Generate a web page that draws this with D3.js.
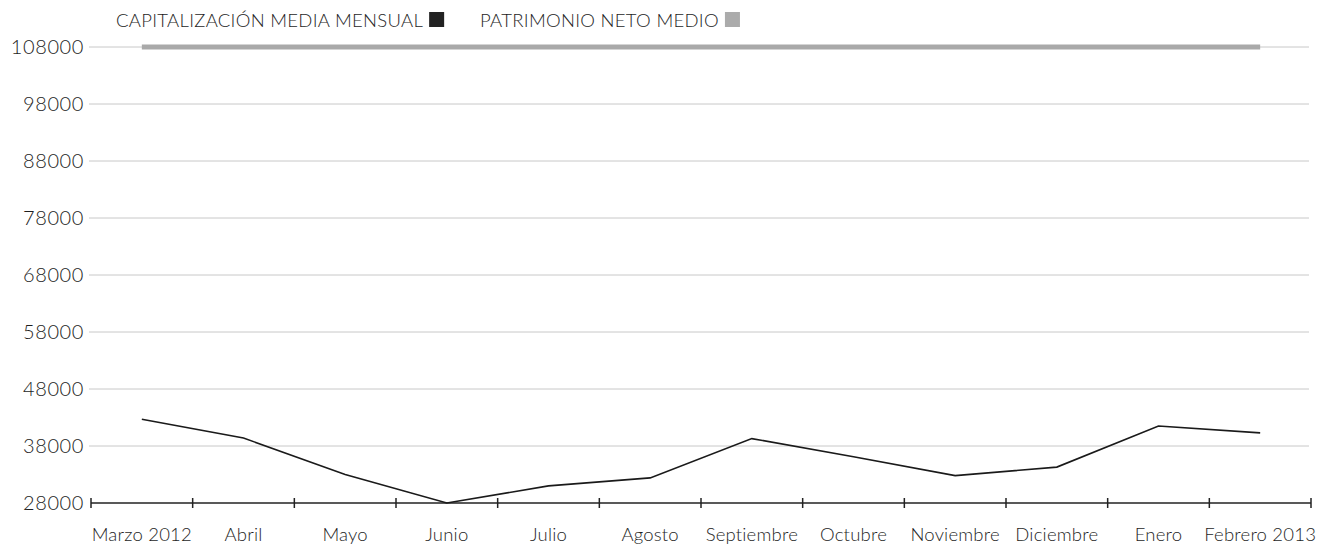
<!DOCTYPE html>
<html><head><meta charset="utf-8">
<script src="https://cdn.jsdelivr.net/npm/d3@7/dist/d3.min.js"></script>
<style>
body{margin:0;background:#fff;}
text{font-family:Lato,"Open Sans",sans-serif;font-weight:300;fill:#1e1e1e;}
</style></head>
<body><svg id="c" width="1334" height="546"></svg>
<script>
const months = ["Marzo 2012","Abril","Mayo","Junio","Julio","Agosto","Septiembre","Octubre","Noviembre","Diciembre","Enero","Febrero 2013"];
const capitalizacion = [42700,39400,33000,28000,31000,32400,39300,36100,32800,34300,41500,40300];
const patrimonio = [108000,108000,108000,108000,108000,108000,108000,108000,108000,108000,108000,108000];
const yTicks = [28000,38000,48000,58000,68000,78000,88000,98000,108000];
const legendLabels = ["CAPITALIZACIÓN MEDIA MENSUAL","PATRIMONIO NETO MEDIO"];

const svg = d3.select("#c");
const x0 = 91, x1 = 1311, yTop = 47, yBot = 503;
const x = d3.scaleBand().domain(months).range([x0,x1]);
const y = d3.scaleLinear().domain([28000,108000]).range([yBot,yTop]);

// gridlines
svg.append("g").selectAll("line").data(yTicks.slice(1)).join("line")
  .attr("x1",x0-2).attr("x2",1309).attr("y1",d=>y(d)).attr("y2",d=>y(d))
  .attr("stroke","#c8c8c8").attr("stroke-width",1);

// y labels
svg.append("g").selectAll("text").data(yTicks).join("text")
  .attr("x",84).attr("y",d=>y(d)).attr("dy","0.36em").attr("text-anchor","end")
  .style("font-size","20px").style("letter-spacing","0.6px").text(d=>d);

// x axis
const xa = svg.append("g").attr("transform",`translate(0,${yBot})`);
xa.append("line").attr("x1",x0).attr("x2",x1).attr("stroke","#222").attr("stroke-width",1.5);
const tickPos = months.map(m=>x(m)).concat([x1]);
xa.selectAll("line.t").data(tickPos).join("line").attr("class","t")
  .attr("x1",d=>d).attr("x2",d=>d).attr("y1",-5).attr("y2",5)
  .attr("stroke","#222").attr("stroke-width",1.5);
xa.selectAll("text").data(months).join("text")
  .attr("x",d=>x(d)+x.bandwidth()/2).attr("y",38).attr("text-anchor","middle")
  .style("font-size","18.5px").style("letter-spacing","0.2px").text(d=>d);

const cx = d=>x(d)+x.bandwidth()/2;
// patrimonio line
svg.append("path").datum(months.map((m,i)=>[cx(m),y(patrimonio[i])]))
  .attr("d",d3.line()).attr("fill","none").attr("stroke","#a9a9a9").attr("stroke-width",5);
// capitalizacion line
svg.append("path").datum(months.map((m,i)=>[cx(m),y(capitalizacion[i])]))
  .attr("d",d3.line()).attr("fill","none").attr("stroke","#1a1a1a").attr("stroke-width",1.6);

// legend
const lg = svg.append("g");
const t1 = lg.append("text").attr("x",116).attr("y",27).style("font-size","18.5px").style("letter-spacing","0.3px").text(legendLabels[0]);
const w1 = t1.node().getComputedTextLength();
lg.append("rect").attr("x",116+w1+6).attr("y",12).attr("width",15).attr("height",15).attr("fill","#222");
const t2 = lg.append("text").attr("x",480).attr("y",27).style("font-size","18.5px").style("letter-spacing","0.3px").text(legendLabels[1]);
const w2 = t2.node().getComputedTextLength();
lg.append("rect").attr("x",480+w2+6).attr("y",12).attr("width",15).attr("height",15).attr("fill","#ababab");
</script></body></html>
